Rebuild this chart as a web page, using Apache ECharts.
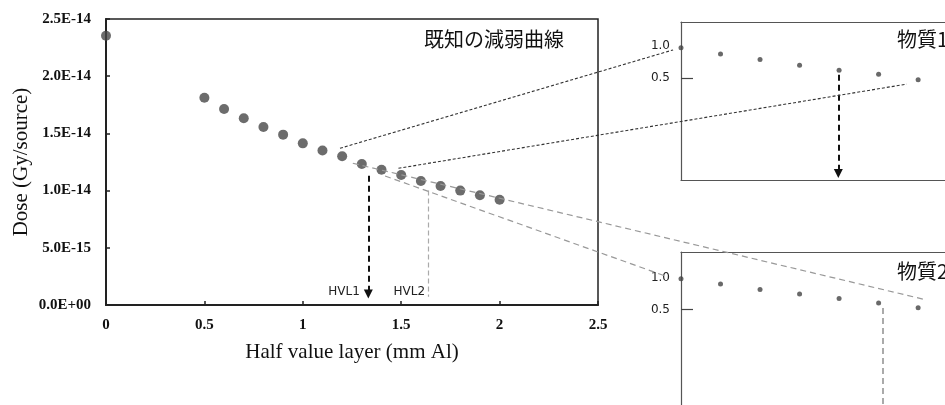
<!DOCTYPE html>
<html lang="ja">
<head>
<meta charset="utf-8">
<title>HVL</title>
<script src="https://cdn.jsdelivr.net/npm/echarts@6/dist/echarts.min.js"></script>
<style>html,body{margin:0;background:#fff}#main{width:945px;height:405px}</style>
</head>
<body>
<div id="main"></div>
<script>
// main curve: thickness (mm Al) vs dose (Gy/source)
var thickness = [0, 0.5, 0.6, 0.7, 0.8, 0.9, 1.0, 1.1, 1.2, 1.3, 1.4, 1.5, 1.6, 1.7, 1.8, 1.9, 2.0];
var dose = [2.354e-14, 1.812e-14, 1.713e-14, 1.632e-14, 1.556e-14, 1.489e-14, 1.413e-14, 1.350e-14,
            1.300e-14, 1.233e-14, 1.182e-14, 1.136e-14, 1.084e-14, 1.040e-14, 1.000e-14, 0.960e-14, 0.920e-14];

// insets (relative dose)
var insetIdx = [0, 1, 2, 3, 4, 5, 6];
var ratio1 = [0.973, 0.875, 0.786, 0.698, 0.620, 0.558, 0.469];
var ratio2 = [0.984, 0.902, 0.813, 0.745, 0.672, 0.605, 0.531];

var hvl1 = 1.333, hvl2 = 1.638;
var insetArrowX = 3.98, inset2LineX = 5.1;

// connector lines: [grid, x, y] -> [grid, x, y]
var connectors = [
  {a: [0, 1.189, 1.370e-14], b: [1, -0.2, 0.9375], kind: 'dot'},
  {a: [0, 1.486, 1.195e-14], b: [1, 5.71, 0.402], kind: 'dot'},
  {a: [0, 1.254, 1.239e-14], b: [2, 6.18, 0.656], kind: 'dash'},
  {a: [0, 1.418, 1.128e-14], b: [2, -0.33, 1.01], kind: 'dash'}
];

var serif = "'Liberation Serif', 'Times New Roman', serif";
var sans = "'DejaVu Sans', Verdana, sans-serif";
var cjk = "'Noto Sans CJK JP', sans-serif";

function expFmt(v) {
  var s = v.toExponential(1).toUpperCase();
  var m = s.match(/^(.*E)([+-])(\d+)$/);
  return m[1] + m[2] + (m[3].length < 2 ? '0' + m[3] : m[3]);
}

function pairs(xs, ys) {
  return xs.map(function (x, i) { return [x, ys[i]]; });
}

var chart = echarts.init(document.getElementById('main'));

var boxLine = {show: true, onZero: false, lineStyle: {color: '#555', width: 1.2}};

function insetY(idx, min, max) {
  return {
    type: 'value', gridIndex: idx, min: min, max: max,
    splitLine: {show: false}, axisLine: boxLine,
    axisTick: {show: true, inside: true, length: 12, customValues: [0.5], lineStyle: {color: '#444', width: 1.2}},
    axisLabel: {customValues: [0.5, 1.0], margin: 11, fontFamily: sans, fontSize: 12, color: '#222',
      formatter: function (v) { return v.toFixed(1); }}
  };
}
function insetX(idx, pos, line) {
  return {type: 'value', gridIndex: idx, position: pos, min: 0, max: 6.68,
    splitLine: {show: false}, axisTick: {show: false}, axisLabel: {show: false},
    axisLine: line ? boxLine : {show: false}};
}

chart.setOption({
  animation: false,
  title: [
    {text: '既知の減弱曲線', left: 424, top: 29, padding: 0,
      textStyle: {fontFamily: cjk, fontSize: 20, fontWeight: 'normal', color: '#111'}},
    {text: '物質1', left: 897, top: 29, padding: 0,
      textStyle: {fontFamily: cjk, fontSize: 20, fontWeight: 'normal', color: '#111'}},
    {text: '物質2', left: 897, top: 261, padding: 0,
      textStyle: {fontFamily: cjk, fontSize: 20, fontWeight: 'normal', color: '#111'}}
  ],
  grid: [
    {left: 106, top: 19, right: 347, bottom: 100, show: true, borderColor: '#222', borderWidth: 1.5},
    {left: 681, top: 22, right: 0, height: 158},
    {left: 681, top: 252, right: 0, bottom: 0}
  ],
  xAxis: [
    {type: 'value', gridIndex: 0, min: 0, max: 2.5, interval: 0.5,
      name: 'Half value layer (mm Al)', nameLocation: 'middle', nameGap: 37,
      nameTextStyle: {fontFamily: serif, fontSize: 21, color: '#111'},
      splitLine: {show: false},
      axisLine: {lineStyle: {color: '#222', width: 2}},
      axisTick: {inside: true, length: 4, lineStyle: {color: '#222', width: 1.5}},
      axisLabel: {margin: 13, fontFamily: serif, fontSize: 15, fontWeight: 'bold', color: '#111'}},
    insetX(1, 'bottom', true), insetX(1, 'top', true),
    insetX(2, 'bottom', false), insetX(2, 'top', true)
  ],
  yAxis: [
    {type: 'value', gridIndex: 0, min: 0, max: 2.5e-14, interval: 0.5e-14,
      name: 'Dose (Gy/source)', nameLocation: 'middle', nameGap: 74, nameRotate: 90,
      nameMoveOverlap: false,
      nameTextStyle: {fontFamily: serif, fontSize: 21, color: '#111'},
      splitLine: {show: false},
      axisLine: {show: true, lineStyle: {color: '#222', width: 2}},
      axisTick: {show: true, inside: true, length: 4, lineStyle: {color: '#222', width: 1.5}},
      axisLabel: {margin: 15, fontFamily: serif, fontSize: 15, fontWeight: 'bold', color: '#111', formatter: expFmt}},
    insetY(1, -1.1, 1.375), insetY(2, -0.99, 1.4)
  ],
  series: [
    {type: 'scatter', xAxisIndex: 0, yAxisIndex: 0, data: pairs(thickness, dose),
      symbolSize: 10, itemStyle: {color: '#474747'}, silent: true,
      markLine: {silent: true, animation: false, label: {show: false},
        data: [
          [{coord: [hvl1, 1.13e-14], symbol: 'none'},
           {coord: [hvl1, 0.096e-14], symbol: 'triangle', symbolSize: [9, 9],
             lineStyle: {color: '#111', width: 2, type: [6, 4]}}],
          [{coord: [hvl2, 1.0e-14], symbol: 'none'},
           {coord: [hvl2, 0.073e-14], symbol: 'none',
             lineStyle: {color: '#aaa', width: 1.2, type: [5, 3]}}]
        ]}},
    {type: 'scatter', xAxisIndex: 1, yAxisIndex: 1, data: pairs(insetIdx, ratio1),
      symbolSize: 5, itemStyle: {color: '#444'}, silent: true,
      markLine: {silent: true, animation: false, label: {show: false},
        data: [
          [{coord: [insetArrowX, 0.547], symbol: 'none'},
           {coord: [insetArrowX, -1.0], symbol: 'triangle', symbolSize: [9, 9],
             lineStyle: {color: '#111', width: 2, type: [6, 4]}}]
        ]}},
    {type: 'scatter', xAxisIndex: 3, yAxisIndex: 2, data: pairs(insetIdx, ratio2),
      symbolSize: 5, itemStyle: {color: '#444'}, silent: true,
      markLine: {silent: true, animation: false, label: {show: false},
        data: [
          [{coord: [inset2LineX, 0.527], symbol: 'none'},
           {coord: [inset2LineX, -0.99], symbol: 'none',
             lineStyle: {color: '#aaa', width: 2, type: [6, 4]}}]
        ]}}
  ]
});

// connectors and HVL labels, placed from data coords
function px(g, x, y) { return chart.convertToPixel({gridIndex: g}, [x, y]); }

var graphics = connectors.map(function (c) {
  var p = px(c.a[0], c.a[1], c.a[2]);
  var q = px(c.b[0], c.b[1], c.b[2]);
  var dot = c.kind === 'dot';
  return {
    type: 'line', silent: true, z: 10,
    shape: {x1: p[0], y1: p[1], x2: q[0], y2: q[1]},
    style: {stroke: dot ? '#333' : '#999', lineWidth: dot ? 1.1 : 1.2, lineDash: dot ? [3, 2] : [6, 4]}
  };
});

[['HVL1', 1.29], ['HVL2', 1.621]].forEach(function (t) {
  var p = px(0, t[1], 0.116e-14);
  graphics.push({
    type: 'text', silent: true, z: 10, x: p[0], y: p[1],
    style: {text: t[0], fontFamily: sans, fontSize: 12, fill: '#222', align: 'right', verticalAlign: 'middle'}
  });
});

chart.setOption({graphic: graphics});
</script>
</body>
</html>
